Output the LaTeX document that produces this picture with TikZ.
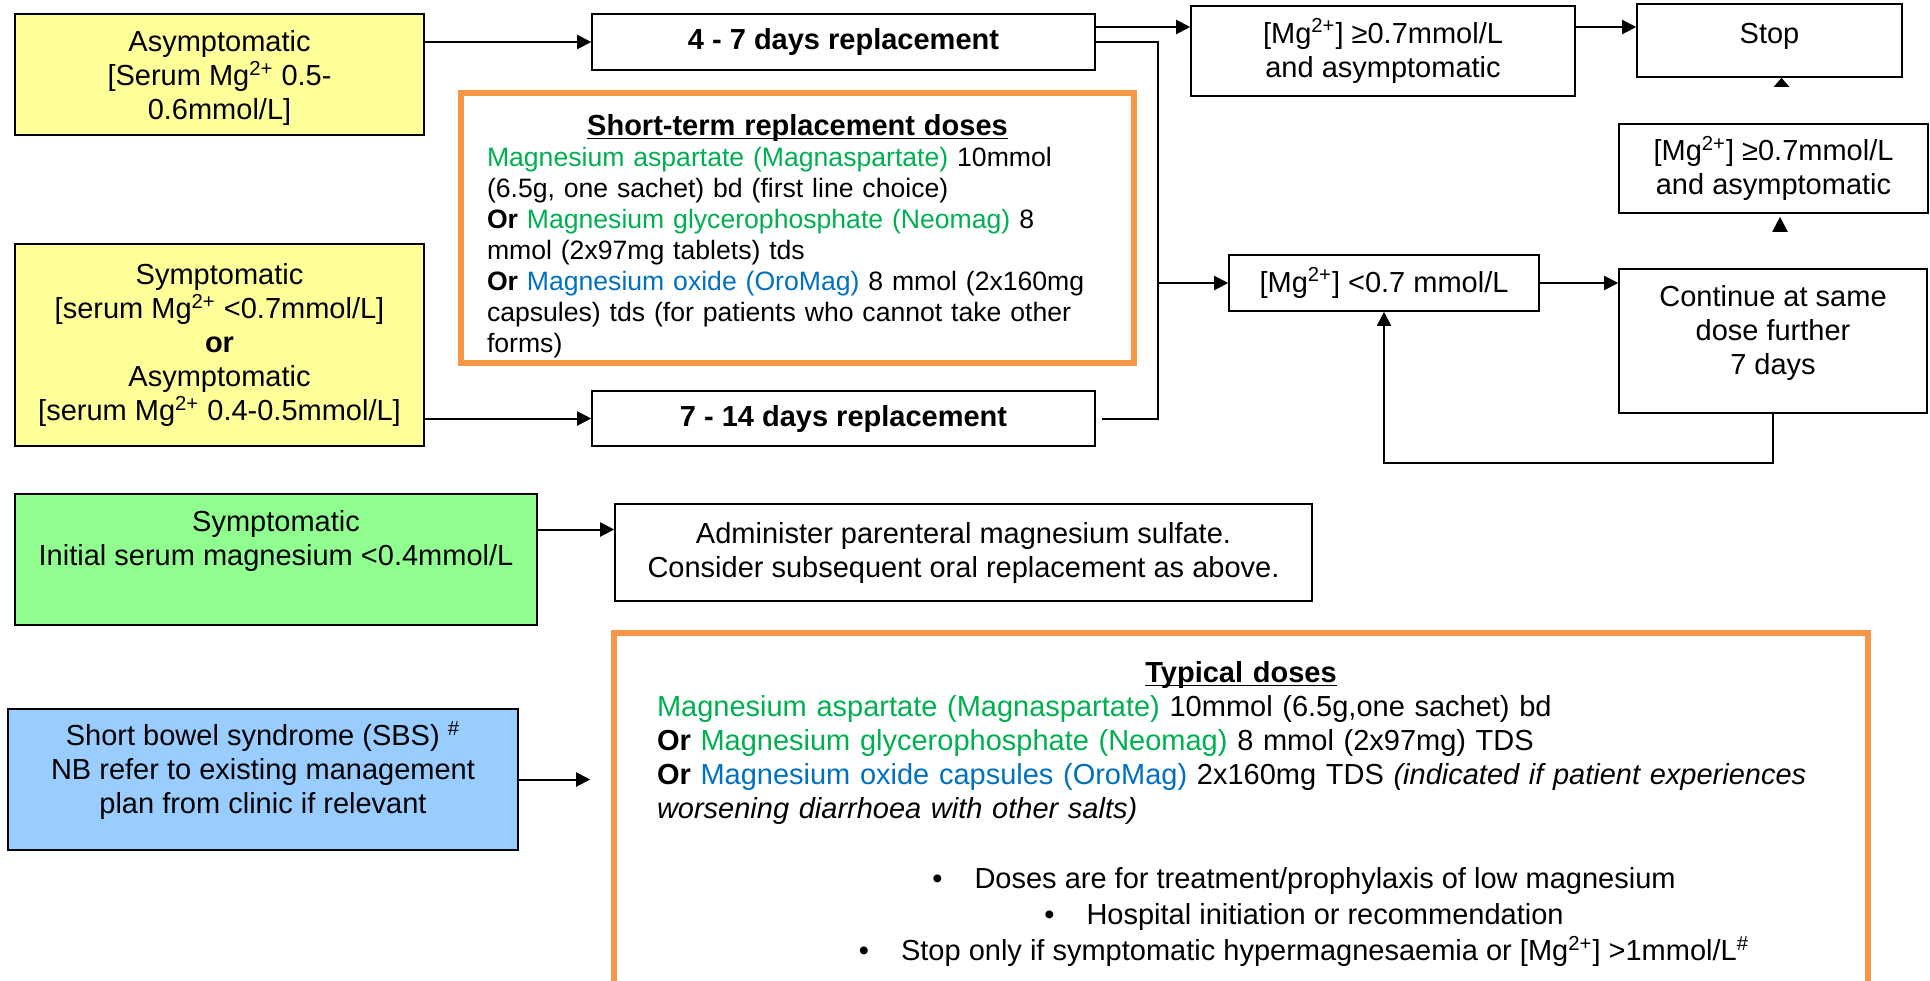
\documentclass[tikz,border=0pt]{standalone}
\usepackage{fontspec}
\setmainfont{Liberation Sans}
\usepackage{xcolor}
\usepackage{tikz}
\usetikzlibrary{arrows.meta, positioning, calc}

\definecolor{mgyellow}{HTML}{FFFF99}
\definecolor{mggreenbox}{HTML}{90FF90}
\definecolor{mgbluebox}{HTML}{99CCFF}
\definecolor{mgorange}{HTML}{F79646}
\definecolor{druggreen}{HTML}{00B050}
\definecolor{drugblue}{HTML}{0070C0}

\newcommand{\mgion}{{[}Mg\textsuperscript{2+}]}
\newcommand{\ulined}[1]{\underline{\setbox0\hbox{#1}\dp0=0pt\box0}}

\begin{document}
\begin{tikzpicture}[
    x=0.5pt, y=-0.5pt,
    mgbox/.style={draw, line width=0.8pt, align=center, inner sep=0pt,
                  font=\fontsize{14.5pt}{17pt}\selectfont},
    dosebox/.style={draw=mgorange, line width=2.8pt, inner sep=0pt},
    arrow/.style={-{Triangle[length=7pt, width=7pt]}, line width=1pt},
    link/.style={line width=1pt},
    stub/.style={-{Triangle[length=4.5pt, width=7.5pt]}, line width=1pt},
    stubfull/.style={-{Triangle[length=7.5pt, width=7.5pt]}, line width=1pt}
]
\useasboundingbox (0,0) rectangle (1930,980);
\clip (0,0) rectangle (1930,980);

\node[mgbox, fill=mgyellow, minimum width=204.5pt, minimum height=60.5pt] (asym) at (219.5,74.5)
    {\rule{0pt}{14pt}Asymptomatic\\{[}Serum Mg\textsuperscript{2+} 0.5-\\0.6mmol/L]};
\node[mgbox, fill=mgyellow, minimum width=204.5pt, minimum height=101pt] (symp) at (219.5,345)
    {Symptomatic\\{[}serum Mg\textsuperscript{2+} <0.7mmol/L]\\\textbf{or}\\Asymptomatic\\{[}serum Mg\textsuperscript{2+} 0.4-0.5mmol/L]};

\node[mgbox, minimum width=251.5pt, minimum height=28pt] (fourseven) at (843.5,42) {\textbf{4 - 7 days replacement}};
\node[mgbox, minimum width=251.5pt, minimum height=27.5pt] (sevenfourteen) at (843.5,418.5) {\textbf{7 - 14 days replacement}};

\node[dosebox, minimum width=336.5pt, minimum height=135pt, text width=310.5pt, align=left,
      font=\fontsize{13.3pt}{15.5pt}\selectfont] (shortterm) at (797.5,228)
    {{\centering\fontsize{14.5pt}{17pt}\selectfont\rule{0pt}{18.5pt}\textbf{\ulined{Short-term replacement doses}}\par}
     \textcolor{druggreen}{Magnesium aspartate (Magnaspartate)} 10mmol\\
     (6.5g, one sachet) bd (first line choice)\\
     \textbf{Or} \textcolor{druggreen}{Magnesium glycerophosphate (Neomag)} 8\\
     mmol (2x97mg tablets) tds\\
     \textbf{Or} \textcolor{drugblue}{Magnesium oxide (OroMag)} 8 mmol (2x160mg\\
     capsules) tds (for patients who cannot take other\\
     forms)};

\node[mgbox, minimum width=192pt, minimum height=45pt] (ge07a) at (1383,51) {\mgion{} ≥0.7mmol/L\\and asymptomatic};
\node[mgbox, minimum width=132.5pt, minimum height=36.5pt, text depth=7pt] (stop) at (1769.5,40.5) {Stop};
\node[mgbox, minimum width=154.5pt, minimum height=44.5pt] (ge07b) at (1773.5,168.5) {\mgion{} ≥0.7mmol/L\\and asymptomatic};
\node[mgbox, minimum width=155pt, minimum height=28pt] (lt07) at (1384,283) {\mgion{} <0.7 mmol/L};
\node[mgbox, minimum width=154pt, minimum height=72pt] (cont) at (1773,341)
    {Continue at same\\dose further\\7 days\\[-6pt]\mbox{}};

\node[mgbox, fill=mggreenbox, minimum width=261pt, minimum height=65.5pt] (severe) at (276,559.5)
    {Symptomatic\\Initial serum magnesium <0.4mmol/L\\[5pt]\mbox{}};
\node[mgbox, minimum width=348.5pt, minimum height=48.5pt] (admin) at (963.5,552.5)
    {Administer parenteral magnesium sulfate.\\Consider subsequent oral replacement as above.};

\node[mgbox, fill=mgbluebox, minimum width=255pt, minimum height=70.5pt] (sbs) at (263,779.5)
    {Short bowel syndrome (SBS) \textsuperscript{\#}\\NB refer to existing management\\plan from clinic if relevant\\[-5pt]\mbox{}};

\node[dosebox, minimum width=627pt, minimum height=188.5pt] (typical) at (1241,821.5) {};
\node[anchor=north, inner sep=0pt, text width=584pt, align=left,
      font=\fontsize{14.5pt}{17pt}\selectfont] (typtext) at (1241,661)
    {{\centering\textbf{\ulined{Typical doses}}\par}
     \textcolor{druggreen}{Magnesium aspartate (Magnaspartate)} 10mmol (6.5g,one sachet) bd\\
     \textbf{Or} \textcolor{druggreen}{Magnesium glycerophosphate (Neomag)} 8 mmol (2x97mg) TDS\\
     \textbf{Or} \textcolor{drugblue}{Magnesium oxide capsules (OroMag)} 2x160mg TDS \textit{(indicated if patient experiences}\\
     \textit{worsening diarrhoea with other salts)}};
\node[inner sep=0pt, align=center, font=\fontsize{14.5pt}{17pt}\selectfont] (notes) at (1304,917)
    {\textbullet\hspace{16pt}Doses are for treatment/prophylaxis of low magnesium\\[1pt]
     \textbullet\hspace{16pt}Hospital initiation or recommendation\\[1pt]
     \textbullet\hspace{16pt}Stop only if symptomatic hypermagnesaemia or \mgion{} >1mmol/L\textsuperscript{\#}};

\coordinate (split) at ($(lt07.west)+(-70,0)$);
\coordinate (upper) at ($(fourseven.east)+(0,-15)$);
\coordinate (gs) at ($(ge07a.east)+(0,-24)$);
\coordinate (severeout) at ($(severe.east)+(0,-30)$);
\coordinate (stopstub) at ($(stop.south)+(12,9)$);
\coordinate (ge07bstub) at ($(ge07b.south)+(6.5,18)$);

\draw[arrow] (asym.east |- fourseven.west) -- (fourseven.west);
\draw[arrow] (symp.east |- sevenfourteen.west) -- (sevenfourteen.west);
\draw[arrow] (upper) -- (upper -| ge07a.west);
\draw[link] (fourseven.east) -| (split);
\draw[link] ($(sevenfourteen.east)+(6,0)$) -| (split);
\draw[arrow] (split) -- (lt07.west);
\draw[arrow] (gs) -- (gs -| stop.west);
\draw[arrow] (lt07.east) -- (lt07.east -| cont.west);
\draw[arrow] (cont.south) -- ++(0,49) -| (lt07.south);
\draw[stub] (stopstub) -- (stopstub |- stop.south);
\draw[stubfull] (ge07bstub) -- ++(0,-15);
\draw[arrow] (severeout) -- (severeout -| admin.west);
\draw[arrow, shorten >=10.5pt] (sbs.east) -- (sbs.east -| typical.west);
\end{tikzpicture}
\end{document}
